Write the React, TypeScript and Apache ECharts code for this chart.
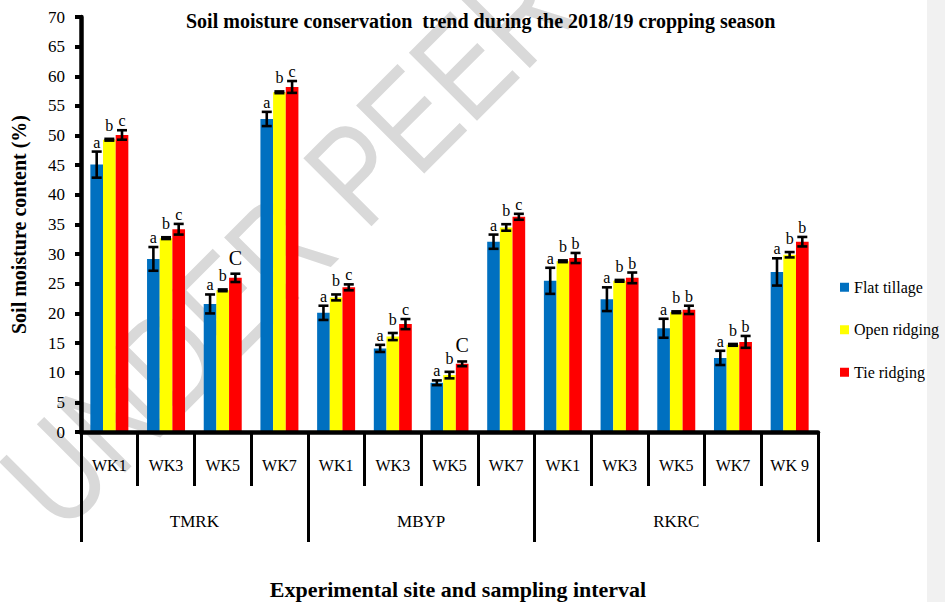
import React, { useEffect, useRef } from 'react';
import * as echarts from 'echarts';

const weeks = ['WK1', 'WK3', 'WK5', 'WK7', 'WK1', 'WK3', 'WK5', 'WK7', 'WK1', 'WK3', 'WK5', 'WK7', 'WK 9'];
const sites = ['TMRK', 'MBYP', 'RKRC'];
const siteBounds = [0, 4, 8, 13];
const siteCenters = [2, 6, 10.5];
const seriesNames = ['Flat tillage', 'Open ridging', 'Tie ridging'];
const colors = ['#0070C0', '#FFFF00', '#FF0000'];

const flat = [45.1, 29.2, 21.6, 52.8, 20.1, 14.1, 8.3, 32.1, 25.5, 22.4, 17.5, 12.5, 27.0];
const flatErr = [2.2, 2.0, 1.6, 1.2, 1.2, 0.6, 0.4, 1.2, 2.2, 2.0, 1.6, 1.2, 2.3];
const openR = [49.3, 32.7, 23.9, 57.3, 22.7, 16.1, 9.6, 34.5, 28.8, 25.5, 20.2, 14.7, 29.9];
const openErr = [0.15, 0.15, 0.15, 0.15, 0.5, 0.6, 0.55, 0.55, 0.15, 0.15, 0.15, 0.15, 0.45];
const tie = [50.1, 34.2, 26.0, 58.2, 24.4, 18.2, 11.5, 36.3, 29.35, 26.0, 20.6, 15.2, 32.1];
const tieErr = [0.8, 0.9, 0.7, 1.0, 0.5, 0.85, 0.4, 0.5, 0.85, 0.9, 0.7, 1.0, 0.8];

const flatL = ['a', 'a', 'a', 'a', 'a', 'a', 'a', 'a', 'a', 'a', 'a', 'a', 'a'];
const openL = ['b', 'b', 'b', 'b', 'b', 'b', 'b', 'b', 'b', 'b', 'b', 'b', 'b'];
const tieL = ['c', 'c', 'C', 'c', 'c', 'c', 'C', 'c', 'b', 'b', 'b', 'b', 'b'];

const values = [flat, openR, tie];
const errs = [flatErr, openErr, tieErr];
const letters = [flatL, openL, tieL];

const yMin = 0;
const yMax = 70;
const yInterval = 5;

const titleText = 'Soil moisture conservation  trend during the 2018/19 cropping season';
const xTitle = 'Experimental site and sampling interval';
const yTitle = 'Soil moisture content (%)';
const watermark = 'UNDER PEER REVIEW';

export default function App() {
  const ref = useRef<HTMLDivElement>(null);
  useEffect(() => {
    document.body.style.margin = '0';
    const chart = echarts.init(ref.current as HTMLDivElement, null, { renderer: 'svg' });
    const serif = "'Liberation Serif', 'Times New Roman', serif";
    const GAP = 0.33;

    const barSeries = seriesNames.map((n, k) => ({
      type: 'bar',
      name: n,
      xAxisIndex: 0,
      yAxisIndex: 0,
      data: values[k],
      barGap: '0%',
      barCategoryGap: '33%',
      itemStyle: { color: colors[k] },
      z: 2,
    }));

    const errSeries = seriesNames.map((n, k) => ({
      type: 'custom',
      name: 'err-' + k,
      xAxisIndex: 0,
      yAxisIndex: 0,
      z: 5,
      data: values[k].map((v, i) => [i, v, errs[k][i]]),
      renderItem: (params: any, api: any) => {
        const i = api.value(0);
        const v = api.value(1);
        const e = api.value(2);
        const band = api.size([1, 0])[0];
        const bw = (band * (1 - GAP)) / 3;
        const cx = api.coord([i, v])[0] + (k - 1) * bw;
        const yt = api.coord([i, v + e])[1];
        const yb = api.coord([i, v - e])[1];
        const hw = 5;
        const letter = letters[k][params.dataIndex];
        const cap = letter === 'C';
        const ls = { stroke: '#000', lineWidth: 2.6 };
        const off = cap ? 6 : k === 1 ? 5.5 : 1.5;
        return {
          type: 'group',
          children: [
            { type: 'line', shape: { x1: cx, y1: yt, x2: cx, y2: yb }, style: ls },
            { type: 'line', shape: { x1: cx - hw, y1: yt, x2: cx + hw, y2: yt }, style: ls },
            { type: 'line', shape: { x1: cx - hw, y1: yb, x2: cx + hw, y2: yb }, style: ls },
            {
              type: 'text',
              x: cx,
              y: yt - off,
              style: {
                text: letter,
                fill: '#000',
                fontFamily: serif,
                fontSize: cap ? 20 : 16,
                align: 'center',
                verticalAlign: 'bottom',
              },
            },
          ],
        };
      },
    }));

    chart.setOption({
      animation: false,
      backgroundColor: '#ffffff',
      grid: { left: 81, right: 127, top: 17, bottom: 170 },
      legend: {
        orient: 'vertical',
        left: 840,
        top: 279,
        itemWidth: 9,
        itemHeight: 9,
        itemGap: 26,
        icon: 'rect',
        padding: 0,
        data: seriesNames,
        textStyle: { fontFamily: serif, fontSize: 16, color: '#000', lineHeight: 16.5 },
        z: 6,
      },
      xAxis: [
        {
          type: 'category',
          data: weeks,
          position: 'bottom',
          offset: 0,
          axisLine: { show: true, lineStyle: { color: '#000', width: 4.5 } },
          axisTick: { show: true, interval: 0, alignWithLabel: false, length: 54, lineStyle: { color: '#000', width: 3 } },
          axisLabel: { interval: 0, margin: 25, fontFamily: serif, fontSize: 16, color: '#000' },
          splitLine: { show: false },
          z: 3,
        },
        {
          type: 'value',
          min: 0,
          max: 13,
          position: 'bottom',
          offset: 0,
          axisLine: { show: false },
          axisTick: { show: true, customValues: siteBounds, length: 110, lineStyle: { color: '#000', width: 3 } },
          axisLabel: {
            customValues: siteCenters,
            margin: 81,
            fontFamily: serif,
            fontSize: 17,
            color: '#000',
            formatter: (v: number) => sites[siteCenters.indexOf(v)] ?? '',
          },
          splitLine: { show: false },
          z: 3,
        },
      ],
      yAxis: {
        type: 'value',
        min: yMin,
        max: yMax,
        interval: yInterval,
        name: yTitle,
        nameLocation: 'middle',
        nameGap: 52,
        nameTextStyle: { fontFamily: serif, fontWeight: 'bold', fontSize: 20, color: '#000' },
        axisLine: { show: true, lineStyle: { color: '#000', width: 4.5 } },
        axisTick: { show: true, length: 6, lineStyle: { color: '#000', width: 4 } },
        axisLabel: { fontFamily: serif, fontSize: 17, color: '#000', margin: 16 },
        splitLine: { show: false },
        z: 3,
      },
      graphic: [
        {
          type: 'rect',
          z: 0,
          shape: { x: 927, y: 0, width: 18, height: 602 },
          style: { fill: '#f1f1f1' },
        },
        {
          type: 'text',
          z: 0,
          x: 27,
          y: 502,
          rotation: Math.PI / 4,
          scaleX: 1,
          scaleY: 1.25,
          style: {
            text: watermark,
            fontFamily: "'Liberation Sans', Arial, sans-serif",
            fontWeight: 'normal',
            fontSize: 112,
            fill: '#d9d9d9',
            align: 'left',
            verticalAlign: 'middle',
          },
        },
        {
          type: 'text',
          z: 4,
          x: 186,
          y: 20.5,
          style: {
            text: titleText,
            fontFamily: serif,
            fontWeight: 'bold',
            fontSize: 20,
            fill: '#000',
            align: 'left',
            verticalAlign: 'middle',
          },
        },
        {
          type: 'text',
          z: 4,
          x: 458,
          y: 589,
          style: {
            text: xTitle,
            fontFamily: serif,
            fontWeight: 'bold',
            fontSize: 22,
            fill: '#000',
            align: 'center',
            verticalAlign: 'middle',
          },
        },
      ],
      series: [...barSeries, ...errSeries],
    });
    return () => chart.dispose();
  }, []);
  return <div ref={ref} style={{ width: 945, height: 602 }} />;
}
